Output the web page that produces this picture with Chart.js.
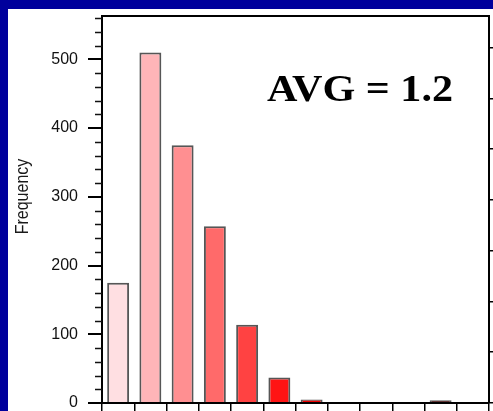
<!DOCTYPE html>
<html>
<head>
<meta charset="utf-8">
<script src="https://cdn.jsdelivr.net/npm/chart.js@4/dist/chart.umd.min.js"></script>
<style>
  html, body { margin: 0; padding: 0; overflow: hidden; }
  body { width: 493px; height: 411px; background: #00009c; position: relative; }
  #myChart { position: absolute; left: 8px; top: 9px; background: #ffffff; }
</style>
</head>
<body>
<canvas id="myChart" width="485" height="402"></canvas>
<script>
// bins are 0.5 wide, labelled by their lower edge
const binLabels = ['0.0', '0.5', '1.0', '1.5', '2.0', '2.5', '3.0', '3.5', '4.0', '4.5', '5.0', '5.5'];
const counts = [175, 510, 375, 257, 114, 37, 5, 0, 0, 0, 4, 0];
const yTicks = [0, 100, 200, 300, 400, 500];
const avgText = 'AVG = 1.2';

const barColors = ['#ffdfe2', '#ffb5b8', '#ff8f91', '#ff6a6a', '#ff4242', '#ff1414',
                   '#f00000', '#c80000', '#960000', '#640000', '#3c0000', '#1e0000'];
const yMax = 563;
const total = counts.reduce((a, b) => a + b, 0);

const extras = {
  id: 'extras',
  afterDraw(chart) {
    const ctx = chart.ctx;
    const area = chart.chartArea;
    const y = chart.scales.y;
    ctx.save();
    // minor ticks every 20 on the left axis
    ctx.strokeStyle = '#111';
    ctx.lineWidth = 1.5;
    ctx.beginPath();
    for (let v = 20; v <= yMax; v += 20) {
      if (v % 100 === 0) continue;
      const py = Math.round(y.getPixelForValue(v)) + 0.5;
      ctx.moveTo(area.left - 7, py);
      ctx.lineTo(area.left, py);
    }
    ctx.stroke();
    // top of the frame
    ctx.lineWidth = 2;
    ctx.strokeStyle = '#000';
    ctx.beginPath();
    ctx.moveTo(area.left - 1, area.top);
    ctx.lineTo(area.right + 1, area.top);
    ctx.stroke();
    // axis title
    ctx.fillStyle = '#1a1a1a';
    ctx.font = '16px "Liberation Sans", Arial, sans-serif';
    ctx.textAlign = 'center';
    ctx.textBaseline = 'alphabetic';
    ctx.translate(20, 187.5);
    ctx.rotate(-Math.PI / 2);
    ctx.scale(1, 1.1);
    ctx.fillText('Frequency', 0, 0);
    ctx.restore();

    // average annotation
    ctx.save();
    ctx.font = 'bold 37px "Liberation Serif", "Times New Roman", serif';
    ctx.fillStyle = '#000';
    ctx.textBaseline = 'alphabetic';
    const w = ctx.measureText(avgText).width;
    ctx.translate(259, 92);
    ctx.scale(186 / w, 1);
    ctx.fillText(avgText, 0, 0);
    ctx.restore();
  }
};

const data = {
  labels: binLabels,
  datasets: [{
    data: counts,
    backgroundColor: barColors,
    borderColor: 'rgba(30,30,30,0.75)',
    borderWidth: 2,
    categoryPercentage: 1,
    barPercentage: 0.68
  }]
};

const config = {
  type: 'bar',
  data: data,
  options: {
    responsive: false,
    animation: false,
    devicePixelRatio: 1,
    layout: { padding: { top: 7, left: 0, right: 0, bottom: 0 } },
    plugins: { legend: { display: false }, tooltip: { enabled: false } },
    scales: {
      x: {
        offset: true,
        grid: { offset: true, drawOnChartArea: false, tickLength: 8, color: '#000', lineWidth: 1.5 },
        border: { display: true, color: '#000', width: 2 },
        ticks: { display: false }
      },
      y: {
        position: 'left',
        min: 0,
        max: yMax,
        afterBuildTicks: scale => { scale.ticks = yTicks.map(v => ({ value: v })); },
        grid: { drawOnChartArea: false, tickLength: 14, color: '#000', lineWidth: 2 },
        border: { display: true, color: '#000', width: 2 },
        ticks: {
          padding: 10,
          color: '#111',
          font: { family: '"Liberation Sans", Arial, sans-serif', size: 16 }
        },
        afterFit: scale => { scale.width = 94; scale.paddingTop = 0; scale.paddingBottom = 0; }
      },
      // percentage axis on the right
      y2: {
        display: true,
        position: 'right',
        min: 0,
        max: yMax / total * 100,
        grid: { drawOnChartArea: false, tickLength: 4, color: '#000', lineWidth: 1.5 },
        border: { display: true, color: '#000', width: 2 },
        ticks: { display: false, stepSize: 5, includeBounds: false },
        afterFit: scale => { scale.width = 4; scale.paddingTop = 0; scale.paddingBottom = 0; }
      }
    }
  },
  plugins: [extras]
};

const myChart = new Chart(document.getElementById('myChart'), config);
</script>
</body>
</html>
